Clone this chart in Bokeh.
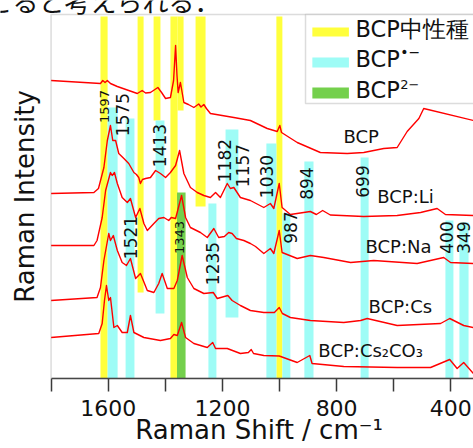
import math
from bokeh.plotting import figure
from bokeh.models import Range1d, FixedTicker, Label, BoxAnnotation
from bokeh.embed import file_html
from bokeh.resources import INLINE
from bokeh.core.properties import value

# ---------------- data (Raman shift in cm^-1, intensity in arbitrary units) ----------------
shift_bcp = [1800, 1627, 1619, 1611, 1603, 1592, 1568, 1498, 1481, 1469, 1452, 1426, 1413, 1399,
             1382, 1371, 1364, 1359, 1355, 1347, 1335, 1319, 1300, 1283, 1275, 1265, 1256, 1242,
             1160, 1102, 1043, 1008, 999, 993, 938, 857, 763, 705, 635, 588, 553, 512, 495, 321]
int_bcp = [298, 295, 298, 296, 298, 295, 292, 285, 288, 285.5, 286, 291, 286, 280,
           281, 298, 333, 303, 286, 296, 276, 274, 271, 274.5, 271.5, 274, 270, 265,
           261, 258, 250, 247, 253, 246, 236, 226, 225, 226, 230, 231, 247, 260, 270, 258]

shift_li = [1800, 1650, 1634, 1615, 1603, 1592, 1584, 1574, 1563, 1545, 1528, 1510, 1501, 1493,
            1487, 1480, 1469, 1452, 1434, 1417, 1399, 1382, 1364, 1350, 1335, 1312, 1288, 1265,
            1242, 1224, 1207, 1183, 1172, 1160, 1137, 1102, 1055, 1032, 1020, 1001, 991, 962,
            892, 871, 849, 822, 705, 588, 506, 448, 419, 321]
int_li = [185, 186, 190, 211, 238, 253, 238, 238, 225, 220, 215, 206, 204, 201,
          195, 199, 200, 201, 208, 205, 201, 206, 213, 228, 205, 191, 186, 183,
          181, 186, 181, 195, 190, 191, 181, 178, 171, 175, 170, 195, 171, 164,
          167, 164, 168, 163.5, 162, 163, 166, 170, 164, 163]

shift_na = [1800, 1650, 1639, 1621, 1609, 1592, 1586, 1578, 1568, 1551, 1533, 1522, 1504, 1489,
            1475, 1463, 1440, 1423, 1405, 1388, 1379, 1364, 1343, 1329, 1312, 1277, 1253, 1230,
            1213, 1193, 1178, 1166, 1151, 1125, 1102, 1084, 1055, 1032, 1020, 1001, 991, 938,
            892, 845, 751, 670, 518, 425, 401, 321]
int_na = [133, 133, 138, 161, 188, 206, 203, 206, 195, 181, 176, 180, 161, 170,
          155, 148, 155, 160, 161, 158, 161, 160, 183, 161, 151, 146, 141, 150,
          141, 142, 146, 145, 140, 138, 135, 132, 125, 130, 125, 148, 126, 120,
          123, 121, 116, 118, 115, 121, 116, 115]

shift_cs = [1800, 1639, 1627, 1615, 1598, 1592, 1582, 1568, 1551, 1536, 1522, 1504, 1487, 1463,
            1440, 1423, 1411, 1393, 1370, 1358, 1341, 1323, 1300, 1265, 1232, 1218, 1181, 1166,
            1137, 1102, 1055, 1018, 1001, 990, 962, 892, 775, 716, 693, 588, 436, 404, 355, 321]
int_cs = [78, 81, 91, 118, 145, 138, 143, 128, 116, 113, 120, 100, 105, 88,
          86, 95, 105, 90, 90, 98, 123, 101, 90, 85, 86, 80, 83, 78,
          73, 68, 66, 66, 71, 65, 61, 58, 56, 58, 60, 53, 55, 60, 53, 51]

shift_cs2co3 = [1800, 1633, 1621, 1613, 1606, 1598, 1592, 1580, 1568, 1551, 1533, 1522, 1510, 1475,
                1417, 1382, 1370, 1358, 1343, 1329, 1300, 1253, 1234, 1224, 1183, 1137, 1109, 1099,
                1091, 1055, 1001, 938, 894, 886, 775, 588, 471, 404, 378, 355, 321]
int_cs2co3 = [41, 45, 55, 78, 93, 78, 81, 51, 53, 46, 46, 63, 46, 41,
              38, 40, 44, 43, 56, 41, 35, 31, 36, 30, 30, 25, 26, 29,
              25, 23, 22.5, 16, 23, 15, 12, 11, 11, 19, 10, 16, 5]

series_names = ["BCP", "BCP:Li", "BCP:Na", "BCP:Cs", "BCP:Cs\u2082CO\u2083"]
series_label_x = [776, 658, 699, 688, 864]
series_label_y = [242, 182, 132, 72, 28]

# assignment bands: neutral BCP, radical anion, dianion
neutral_left = [1627, 1497, 1441, 1382, 1357, 1294, 1011]
neutral_right = [1602, 1476, 1417, 1357, 1336, 1259, 990]
neutral_bottom = [0, 86, 258, 0, 268, 172, 0]
neutral_top = [362, 362, 362, 362, 362, 362, 362]

anion_left = [1602, 1539, 1434, 1249, 1189, 1046, 990, 913, 716, 419, 370]
anion_right = [1567, 1508, 1403, 1221, 1144, 1011, 962, 881, 688, 391, 338]
anion_bottom = [0, 0, 65, 0, 61, 0, 0, 0, 0, 0, 0]
anion_top = [271, 260, 258, 175, 249, 235, 165, 217, 221, 158, 156]

dianion_left = [1359]
dianion_right = [1329]
dianion_bottom = [0]
dianion_top = [186]

peak_text = ["1575", "1413", "1182", "1157", "1030", "894", "699", "987", "1521", "1235", "400", "349"]
peak_x = [1550, 1422, 1193, 1130, 1044, 904, 711, 960, 1522, 1233, 414, 356]
peak_y = [264, 233, 218, 213, 202, 195, 197, 151, 141, 115, 141, 141]
small_peak_text = ["1597", "1343"]
small_peak_x = [1613, 1349]
small_peak_y = [272, 141]

tick_values = [1800, 1600, 1400, 1200, 1000, 800, 600, 400]
tick_labels = ["", "1600", "", "1200", "", "800", "", "400"]

# ---------------- figure ----------------
FONT = "DejaVu Sans"
YELLOW = "#ffff3c"
CYAN = "#9efcf6"
GREEN = "#74d04c"
RED = "#ff0000"
FRAME = "#8a8a8a"
INK = "#111111"

p = figure(width=473, height=448, output_backend="svg", toolbar_location=None,
           x_range=Range1d(1977.1, 320.7), y_range=Range1d(0, 378),
           min_border_left=0, min_border_right=0, min_border_top=0, min_border_bottom=70)
p.outline_line_color = None
p.xgrid.visible = False
p.ygrid.visible = False
p.yaxis.visible = False
p.background_fill_color = "white"
p.border_fill_color = "white"

# bottom axis
xa = p.xaxis[0]
xa.bounds = (320.7, 1800)
xa.ticker = FixedTicker(ticks=tick_values)
xa.major_label_overrides = {t: l for t, l in zip(tick_values, tick_labels)}
xa.major_tick_out = 13
xa.major_tick_in = 0
xa.minor_tick_line_color = None
xa.axis_line_color = "#3a3a3a"
xa.axis_line_width = 1.5
xa.major_tick_line_color = "#3a3a3a"
xa.major_tick_line_width = 1.5
xa.major_label_text_font = FONT
xa.major_label_text_font_size = "22px"
xa.major_label_text_color = INK
xa.major_label_standoff = 8
# leading spaces shift the centred title to the right, as in the original layout
xa.axis_label = "\u2003\u2002\u2009Raman Shift / cm\u207b\u00b9"
xa.axis_label_text_font = FONT
xa.axis_label_text_font_size = "26px"
xa.axis_label_text_font_style = "normal"
xa.axis_label_text_color = INK
xa.axis_label_standoff = -4

# bands
p.quad(left=neutral_left, right=neutral_right, bottom=neutral_bottom, top=neutral_top,
       fill_color=YELLOW, line_color=None)
p.quad(left=anion_left, right=anion_right, bottom=anion_bottom, top=anion_top,
       fill_color=CYAN, line_color=None)
p.quad(left=dianion_left, right=dianion_right, bottom=dianion_bottom, top=dianion_top,
       fill_color=GREEN, line_color=None)

# spectra
for xs, ys in [(shift_bcp, int_bcp), (shift_li, int_li), (shift_na, int_na),
               (shift_cs, int_cs), (shift_cs2co3, int_cs2co3)]:
    p.line(xs, ys, line_color=RED, line_width=1.4, line_join="round")

# peak labels (rotated)
p.text(x=peak_x, y=peak_y, text=peak_text, angle=math.pi / 2, text_align="center",
       text_baseline="middle", text_font=value(FONT), text_font_size="17px", text_color=INK)
p.text(x=small_peak_x, y=small_peak_y, text=small_peak_text, angle=math.pi / 2, text_align="center",
       text_baseline="middle", text_font=value(FONT), text_font_size="13px", text_color=INK)

# series names
p.text(x=series_label_x, y=series_label_y, text=series_names, text_align="left",
       text_baseline="alphabetic", text_font=value(FONT), text_font_size="18px", text_color=INK)

# plot-area border (left and top sides; right side lies beyond the cropped edge)
p.add_layout(BoxAnnotation(left=1800, right=250, top=364, bottom=0, fill_alpha=0,
                           line_color=FRAME, line_width=1.5))

# legend (drawn by hand so the superscripts can be shown)
p.add_layout(BoxAnnotation(left=909, right=250, top=364, bottom=275, fill_color="white",
                           fill_alpha=1, line_color=FRAME, line_width=1.5))
for (b, t, c) in [(342, 351, YELLOW), (311, 321, CYAN), (280, 291, GREEN)]:
    p.add_layout(BoxAnnotation(left=885, right=757, bottom=b, top=t, fill_color=c,
                               fill_alpha=1, line_color=None))
for txt, yy in [("BCP中性種", 350), ("BCP", 320), ("BCP", 289)]:
    p.add_layout(Label(x=734, y=yy, text=txt, text_font=FONT, text_font_size="22.5px",
                       text_baseline="alphabetic", text_color=INK))
p.add_layout(Label(x=577, y=327, text="\u2022\u2212", text_font=FONT, text_font_size="14px",
                   text_baseline="middle", text_color=INK))
p.add_layout(Label(x=577, y=294, text="2\u2212", text_font=FONT, text_font_size="13px",
                   text_baseline="middle", text_color=INK))

# y axis title
p.add_layout(Label(x=1891, y=182, text="Raman Intensity", text_font=FONT, angle=math.pi / 2,
                   text_font_size="26px", text_align="center", text_baseline="alphabetic",
                   text_color=INK))

# fragment of the surrounding document text, cut by the top edge
p.add_layout(Label(x=2026, y=377.7, text="こると考えられる．", text_font="Noto Sans CJK JP",
                   text_font_size="26px", text_baseline="alphabetic", text_color=INK))

open("out.html", "w").write(file_html(p, INLINE))
